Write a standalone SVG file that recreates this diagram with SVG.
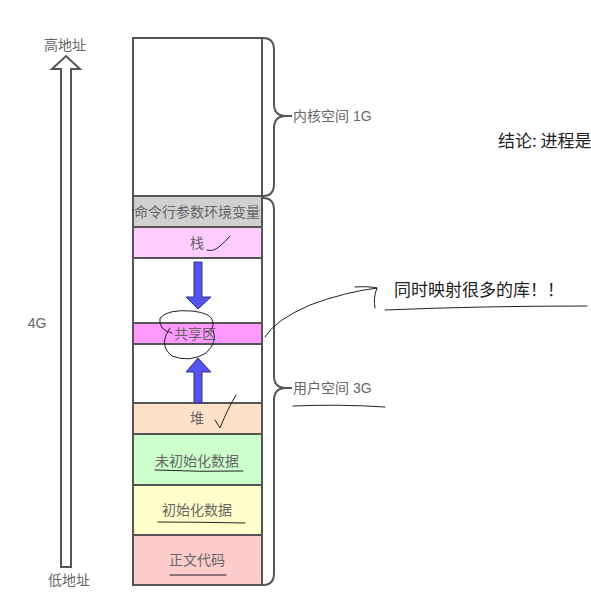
<svg xmlns="http://www.w3.org/2000/svg" width="591" height="601" viewBox="0 0 591 601">
<style>
.seg{stroke:#555;stroke-width:2}
.lbl{font-family:"Liberation Sans","Noto Sans CJK SC",sans-serif;font-size:14px;fill:#666;text-anchor:middle;dominant-baseline:central}
.side{font-family:"Liberation Sans","Noto Sans CJK SC",sans-serif;font-size:14px;fill:#666;dominant-baseline:central}
.hand{fill:none;stroke:#222;stroke-width:1;stroke-linecap:round}
.brace{fill:none;stroke:#555;stroke-width:2}
.blue{fill:#5555ee;stroke:#333388;stroke-width:1}
</style>
<rect width="591" height="601" fill="#fff"/>
<g id="addr-arrow">
<path d="M61,567 L61,69 L52,69 L66,56 L80,69 L71,69 L71,567 Z" fill="#fff" stroke="#555" stroke-width="2"/>
<text class="lbl" x="65" y="45">高地址</text>
<text class="lbl" x="69" y="580">低地址</text>
<text class="lbl" x="37" y="323">4G</text>
</g>
<g id="kernel"><rect class="seg" x="133" y="38" width="129" height="158" fill="#fff"/></g>
<g id="env"><rect class="seg" x="133" y="196" width="129" height="31" fill="#d0d0d0"/><text class="lbl" x="197" y="212" textLength="126" lengthAdjust="spacingAndGlyphs">命令行参数环境变量</text></g>
<g id="stack"><rect class="seg" x="133" y="227" width="129" height="31" fill="#ffccff"/><text class="lbl" x="197" y="243">栈</text></g>
<g id="gap1"><rect class="seg" x="133" y="258" width="129" height="65" fill="#fff"/></g>
<g id="shared"><rect class="seg" x="133" y="323" width="129" height="21" fill="#ff99ff"/><text class="lbl" x="195" y="334">共享区</text></g>
<g id="gap2"><rect class="seg" x="133" y="344" width="129" height="59" fill="#fff"/></g>
<g id="heap"><rect class="seg" x="133" y="403" width="129" height="31" fill="#fde2c8"/><text class="lbl" x="197" y="418">堆</text></g>
<g id="bss"><rect class="seg" x="133" y="434" width="129" height="51" fill="#ccffcc"/><text class="lbl" x="197" y="461">未初始化数据</text></g>
<g id="data"><rect class="seg" x="133" y="485" width="129" height="50" fill="#ffffcc"/><text class="lbl" x="197" y="510">初始化数据</text></g>
<g id="text"><rect class="seg" x="133" y="535" width="129" height="50" fill="#ffcccc"/><text class="lbl" x="197" y="560">正文代码</text></g>
<g id="connectors">
<path class="blue" d="M194,262 L202,262 L202,297 L211,297 L198,309 L186,297 L194,297 Z"/>
<path class="blue" d="M194,403 L202,403 L202,372 L211,372 L198,358 L186,372 L194,372 Z"/>
<path class="brace" d="M263,38 Q274,38 274,50 L274,104 Q274,116 286,116 L292,116 M286,116 Q274,116 274,128 L274,184 Q274,196 263,196"/>
<path class="brace" d="M263,198 Q274,198 274,210 L274,376 Q274,388 286,388 L292,388 M286,388 Q274,388 274,400 L274,573 Q274,585 263,585"/>
</g>
<g id="kernel-label"><text class="side" x="293" y="116">内核空间 1G</text></g>
<g id="user-label"><text class="side" x="293" y="388">用户空间 3G</text></g>
<g id="conclusion"><text x="498" y="139" font-family="'Noto Sans CJK SC',sans-serif" font-size="17" fill="#222" dominant-baseline="central">结论: 进程是</text></g>
<g id="note"><text x="394" y="288" font-family="'Noto Sans CJK SC',sans-serif" font-size="17" fill="#222" dominant-baseline="central">同时映射很多的库！！</text></g>
<g id="annotations">
<path class="hand" d="M207,250 Q214,252 220,246 Q226,241 230,236"/>
<path class="hand" d="M172,333 Q158,330 160,318 Q168,309 192,311 Q212,313 213,322 Q214,332 205,332"/>
<path class="hand" d="M170,328 Q158,345 172,356 Q190,363 206,353 Q218,342 213,330"/>
<path class="hand" d="M215,420 L220,428 Q228,408 236,395"/>
<path class="hand" d="M155,470 Q200,472 243,471"/>
<path class="hand" d="M158,522 Q200,522 245,523"/>
<path class="hand" d="M170,575 L226,575"/>
<path class="hand" d="M265,337 Q275,320 310,305 Q345,292 377,288"/>
<path class="hand" d="M355,287 Q368,286 377,288 Q373,298 375,308"/>
<path class="hand" d="M385,310 Q480,306 587,306"/>
<path class="hand" d="M293,406 Q340,404 385,407"/>
</g>
</svg>
